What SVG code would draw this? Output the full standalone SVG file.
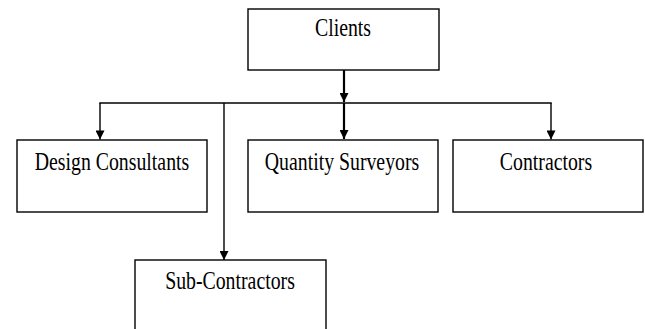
<svg xmlns="http://www.w3.org/2000/svg" width="645" height="329" viewBox="0 0 645 329">
<style>
.box{fill:#fff;stroke:#000;stroke-width:1.4}
.lbl{font-family:"Liberation Serif","Times New Roman",serif;font-size:22px;fill:#000;text-anchor:middle}
.ln{fill:none;stroke:#000;stroke-width:1.4}
.thk{fill:none;stroke:#000;stroke-width:2.2}
</style>
<defs>
<marker id="ah" viewBox="0 0 10 10" refX="10" refY="5" markerWidth="11" markerHeight="9" markerUnits="userSpaceOnUse" orient="auto">
<path d="M0,0 L10,5 L0,10 Z" fill="#000"/>
</marker>
</defs>
<rect width="645" height="329" fill="#fff"/>
<g id="connectors">
<line class="thk" x1="344" y1="70" x2="344" y2="102" marker-end="url(#ah)"/>
<line class="thk" x1="344" y1="103" x2="344" y2="139" marker-end="url(#ah)"/>
<line class="ln" x1="99.3" y1="103" x2="551.7" y2="103"/>
<line class="ln" x1="100" y1="103" x2="100" y2="139.5" marker-end="url(#ah)"/>
<line class="ln" x1="551" y1="103" x2="551" y2="139.5" marker-end="url(#ah)"/>
<line class="ln" x1="224" y1="103" x2="224" y2="260" marker-end="url(#ah)"/>
</g>
<g id="clients">
<rect class="box" x="248" y="9" width="191" height="61"/>
<text class="lbl" transform="translate(343,36) scale(0.9,1.15)">Clients</text>
</g>
<g id="design-consultants">
<rect class="box" x="17" y="140" width="190" height="72"/>
<text class="lbl" transform="translate(112,170) scale(0.9,1.15)">Design Consultants</text>
</g>
<g id="quantity-surveyors">
<rect class="box" x="248" y="140" width="190" height="72"/>
<text class="lbl" transform="translate(342,170) scale(0.9,1.15)">Quantity Surveyors</text>
</g>
<g id="contractors">
<rect class="box" x="453" y="140" width="190" height="72"/>
<text class="lbl" transform="translate(546,170) scale(0.9,1.15)">Contractors</text>
</g>
<g id="sub-contractors">
<rect class="box" x="135" y="260" width="191" height="80"/>
<text class="lbl" transform="translate(230,289) scale(0.9,1.15)">Sub-Contractors</text>
</g>
</svg>
